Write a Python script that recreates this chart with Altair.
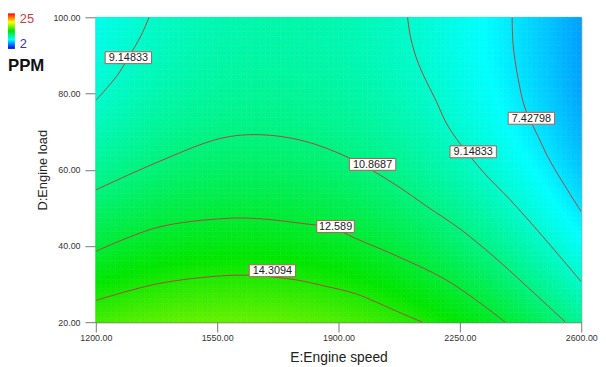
import altair as alt
import numpy as np
import pandas as pd

FONT = "Liberation Sans"

# ---- contour lines (E: engine speed, D: engine load) ----
lvl_14_3094_x = [1200, 1379.3, 1569.9, 1663.8, 1777.6, 1854.5, 1948.4, 2005.3, 2062.2, 2141.9]
lvl_14_3094_y = [25.7, 30.1, 32.2, 32.2, 31.1, 29.6, 27.5, 25.4, 23.1, 20.0]

lvl_12_589_x = [1200, 1379.3, 1569.9, 1663.8, 1777.6, 1885.8, 1948.4, 2062.2, 2204.5, 2298.4, 2380.9]
lvl_12_589_y = [38.6, 44.9, 47.2, 47.2, 46.1, 44.6, 42.0, 37.6, 31.4, 25.7, 20.0]

lvl_10_8687_x = [1200, 1370.7, 1558.5, 1672.4, 1797.6, 1928.4, 2062.2, 2156.1, 2252.8, 2346.7, 2440.6, 2554.5]
lvl_10_8687_y = [54.7, 61.7, 68.2, 69.2, 67.6, 63.2, 56.2, 50.3, 44.3, 37.3, 29.6, 20.0]

lvl_9_14833a_x = [1353.7, 1330.9, 1293.9, 1259.8, 1200]
lvl_9_14833a_y = [100.0, 95.3, 89.4, 84.5, 78.2]

lvl_9_14833b_x = [2099.2, 2107.7, 2130.5, 2181.7, 2218.7, 2312.6, 2395.1, 2489.0, 2600]
lvl_9_14833b_y = [100.0, 94.8, 87.8, 78.0, 71.0, 59.9, 52.1, 42.5, 30.6]

lvl_7_42798_x = [2400.8, 2403.6, 2417.9, 2437.8, 2474.8, 2508.9, 2565.8, 2600]
lvl_7_42798_y = [100.0, 92.8, 84.0, 76.2, 68.9, 62.5, 53.9, 49.0]

contours = [
    ("c1", 14.3094, lvl_14_3094_x, lvl_14_3094_y),
    ("c2", 12.589, lvl_12_589_x, lvl_12_589_y),
    ("c3", 10.8687, lvl_10_8687_x, lvl_10_8687_y),
    ("c4", 9.14833, lvl_9_14833a_x, lvl_9_14833a_y),
    ("c5", 9.14833, lvl_9_14833b_x, lvl_9_14833b_y),
    ("c6", 7.42798, lvl_7_42798_x, lvl_7_42798_y),
]

# ---- contour labels ----
label_text = ["9.14833", "10.8687", "9.14833", "7.42798", "12.589", "14.3094"]
label_x = [1293.9, 1998.2, 2288.4, 2456.3, 1891.5, 1709.3]
label_y = [89.4, 61.4, 64.7, 73.5, 45.1, 33.5]

x_ticks = [1200, 1550, 1900, 2250, 2600]
y_ticks = [20, 40, 60, 80, 100]

# colour bar of the response (PPM), from 2 (blue) to 25 (red)
color_min, color_max = 2, 25
color_domain = [2, 8, 13.7, 19.35, 25]
color_range = ["#0000ff", "#00ffff", "#00e600", "#ffff00", "#ff0000"]

# ---- build tables ----
rows = []
for sid, lev, xs, ys in contours:
    for i, (a, b) in enumerate(zip(xs, ys)):
        rows.append({"sid": sid, "level": lev, "ord": i, "x": a, "y": b})
cdf = pd.DataFrame(rows)

# quadratic response surface fitted to the contour points read above
u = (cdf["x"].to_numpy() - 1900) / 700
v = (cdf["y"].to_numpy() - 60) / 40
A = np.column_stack([np.ones_like(u), u, v, u * u, v * v, u * v])
coef, *_ = np.linalg.lstsq(A, cdf["level"].to_numpy(), rcond=None)

xe = np.linspace(1200, 2600, 101)
ye = np.linspace(20, 100, 65)
gx0, gy0 = np.meshgrid(xe[:-1], ye[:-1])
gx1, gy1 = np.meshgrid(xe[1:], ye[1:])
cu = ((gx0 + gx1) / 2 - 1900) / 700
cv = ((gy0 + gy1) / 2 - 60) / 40
z = coef[0] + coef[1] * cu + coef[2] * cv + coef[3] * cu * cu + coef[4] * cv * cv + coef[5] * cu * cv
gdf = pd.DataFrame({
    "x": gx0.ravel(), "x2": gx1.ravel(),
    "y": gy0.ravel(), "y2": gy1.ravel(),
    "z": z.ravel(),
})

ldf = pd.DataFrame({"label": label_text, "lx": label_x, "ly": label_y})

xscale = alt.Scale(domain=[1200, 2600], nice=False, zero=False)
yscale = alt.Scale(domain=[20, 100], nice=False, zero=False)
cscale = alt.Scale(domain=color_domain, range=color_range, interpolate="rgb")

xaxis = alt.Axis(values=x_ticks, format=".2f", title="E:Engine speed", grid=False,
                 labelFontSize=9, tickSize=10, labelPadding=2, labelFlush=False,
                 titleFontSize=14, titleFontWeight="normal", titlePadding=8)
yaxis = alt.Axis(values=y_ticks, format=".2f", title="D:Engine load", grid=False,
                 labelFontSize=9, tickSize=11, labelPadding=5, labelFlush=False,
                 titleFontSize=13, titleFontWeight="normal", titlePadding=3)

heat = alt.Chart(gdf).mark_rect(strokeWidth=0.6).encode(
    x=alt.X("x:Q", scale=xscale, axis=xaxis),
    x2="x2:Q",
    y=alt.Y("y:Q", scale=yscale, axis=yaxis),
    y2="y2:Q",
    color=alt.Color("z:Q", scale=cscale, legend=None),
    stroke=alt.Stroke("z:Q", scale=cscale, legend=None),
)

lines = alt.Chart(cdf).mark_line(color="#a34a3e", strokeWidth=1, interpolate="catmull-rom",
                                 clip=True).encode(
    x="x:Q", y="y:Q", detail="sid:N", order="ord:Q"
)

box7 = alt.Chart(ldf).transform_filter("length(datum.label) == 7").mark_rect(
    fill="white", stroke="#b55a50", strokeWidth=1,
    xOffset=-23.5, x2Offset=23.5, yOffset=-6, y2Offset=6
).encode(x="lx:Q", x2="lx:Q", y="ly:Q", y2="ly:Q")

box6 = alt.Chart(ldf).transform_filter("length(datum.label) != 7").mark_rect(
    fill="white", stroke="#b55a50", strokeWidth=1,
    xOffset=-19, x2Offset=19, yOffset=-6, y2Offset=6
).encode(x="lx:Q", x2="lx:Q", y="ly:Q", y2="ly:Q")

texts = alt.Chart(ldf).mark_text(font=FONT, fontSize=11, color="#222",
                                  align="center", baseline="middle", dy=0.5).encode(
    x="lx:Q", y="ly:Q", text="label:N"
)

# colour-bar legend (gradient built from the same colour stops)
span = color_max - color_min
bar_gradient = alt.LinearGradient(
    gradient="linear", x1=0, x2=0, y1=1, y2=0,
    stops=[alt.GradientStop(offset=(d - color_min) / span, color=c)
           for d, c in zip(color_domain, color_range)],
)
dummy = pd.DataFrame({"a": [0]})
leg_bar = alt.Chart(dummy).mark_rect(fill=bar_gradient).encode(
    x=alt.value(-89), x2=alt.value(-82), y=alt.value(-4), y2=alt.value(32))
leg_hi = alt.Chart(dummy).mark_text(font=FONT, fontSize=13, color="#c8403c", align="left",
                                    baseline="middle").encode(
    x=alt.value(-77), y=alt.value(1.5), text=alt.value("25"))
leg_lo = alt.Chart(dummy).mark_text(font=FONT, fontSize=13, color="#3434b8", align="left",
                                    baseline="middle").encode(
    x=alt.value(-77), y=alt.value(27), text=alt.value("2"))
leg_title = alt.Chart(dummy).mark_text(font=FONT, fontSize=17, fontWeight="bold", color="#111",
                                       align="left", baseline="middle").encode(
    x=alt.value(-89), y=alt.value(49.5), text=alt.value("PPM"))

chart = alt.layer(heat, lines, box7, box6, texts, leg_bar, leg_hi, leg_lo, leg_title).properties(
    width=492, height=309,
    autosize=alt.AutoSizeParams(type="none"),
    padding={"left": 89, "top": 7, "right": 17, "bottom": 43},
).configure_axis(
    labelFont=FONT, titleFont=FONT, labelColor="#333", titleColor="#222",
    domainColor="#777", tickColor="#777",
).configure_view(stroke="#888", strokeWidth=1)

chart.save("out.html", embed_options={"renderer": "svg", "actions": False})
